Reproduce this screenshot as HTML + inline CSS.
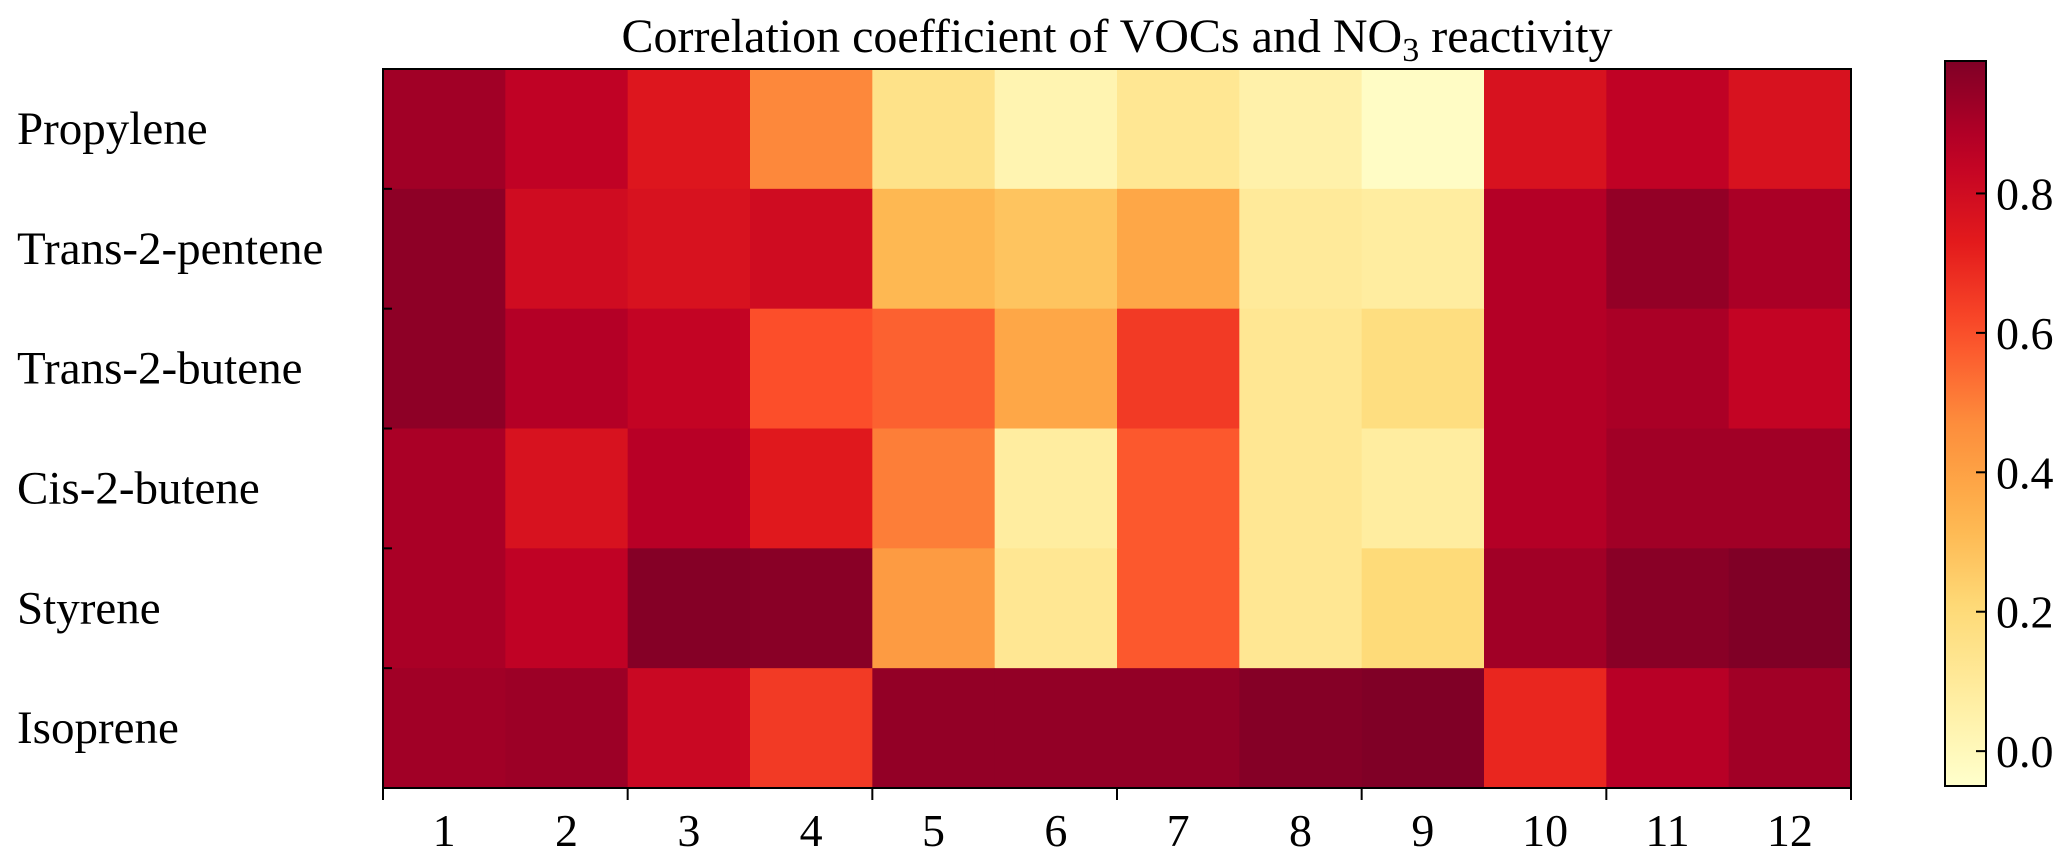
<!DOCTYPE html>
<html><head><meta charset="utf-8"><style>
body{margin:0;background:#fff;}
svg{display:block;font-family:"Liberation Serif",serif;}
</style></head><body>
<svg id="chart" width="2067" height="864" viewBox="0 0 2067 864">
<defs><linearGradient id="cbg" x1="0" y1="1" x2="0" y2="0"></linearGradient></defs>
<text x="1117" y="52" text-anchor="middle" font-size="48">Correlation coefficient of VOCs and NO<tspan font-size="34" dy="9">3</tspan><tspan dy="-9"> reactivity</tspan></text>
<g id="cells"></g><g id="axes"></g>
</svg>
<script>
const rowLabels=["Propylene","Trans-2-pentene","Trans-2-butene","Cis-2-butene","Styrene","Isoprene"];
const colLabels=["1","2","3","4","5","6","7","8","9","10","11","12"];
const rowPropylene=[0.92,0.85,0.75,0.48,0.15,0.03,0.12,0.05,-0.03,0.77,0.85,0.77];
const rowPentene=[0.96,0.80,0.77,0.80,0.32,0.28,0.38,0.10,0.08,0.88,0.95,0.90];
const rowTButene=[0.96,0.88,0.84,0.60,0.56,0.38,0.65,0.12,0.18,0.88,0.90,0.84];
const rowCButene=[0.90,0.77,0.87,0.74,0.50,0.08,0.58,0.12,0.08,0.88,0.92,0.92];
const rowStyrene=[0.90,0.85,0.98,0.97,0.42,0.12,0.58,0.12,0.20,0.92,0.97,0.99];
const rowIsoprene=[0.92,0.93,0.82,0.65,0.95,0.95,0.95,0.98,0.99,0.70,0.87,0.92];
const cbTicks=[0.0,0.2,0.4,0.6,0.8];
const values=[rowPropylene,rowPentene,rowTButene,rowCButene,rowStyrene,rowIsoprene];
const VMIN=-0.05,VMAX=0.99;
const L=383,R=1851,T=69,B=788;
const CBL=1945,CBR=1986,CBT=61,CBB=786;
const stops=["#ffffcc","#ffeda0","#fed976","#feb24c","#fd8d3c","#fc4e2a","#e31a1c","#bd0026","#800026"].map(h=>[1,3,5].map(i=>parseInt(h.substr(i,2),16)));
function cmap(v){let t=Math.max(0,Math.min(1,(v-VMIN)/(VMAX-VMIN)))*(stops.length-1);let i=Math.min(Math.floor(t),stops.length-2),f=t-i;
 const c=stops[i].map((a,k)=>Math.round(a+(stops[i+1][k]-a)*f));return `rgb(${c[0]},${c[1]},${c[2]})`;}
const xs=i=>L+(R-L)*i/colLabels.length, ys=j=>T+(B-T)*j/rowLabels.length;
const cbY=v=>CBB-(v-VMIN)/(VMAX-VMIN)*(CBB-CBT);
const NS="http://www.w3.org/2000/svg";
function mk(tag,attrs,parent){const e=document.createElementNS(NS,tag);for(const k in attrs)e.setAttribute(k,attrs[k]);parent.appendChild(e);return e;}
const cells=document.getElementById('cells'),axes=document.getElementById('axes');
values.forEach((row,j)=>row.forEach((v,i)=>{
 const r=mk('rect',{x:xs(i),y:ys(j),width:xs(i+1)-xs(i)+0.5,height:ys(j+1)-ys(j)+0.5,fill:cmap(v)},cells);
 
 
}));
const frame=mk('rect',{x:L,y:T,width:R-L,height:B-T,fill:'none',stroke:'#000','stroke-width':2},axes);


rowLabels.forEach((lab,j)=>{
 const t=mk('text',{x:17,y:(ys(j)+ys(j+1))/2+15,'font-size':47},axes);t.textContent=lab;
 
 
 if(j>0){const tk=mk('line',{x1:L,x2:L+9,y1:ys(j),y2:ys(j),stroke:'#000','stroke-width':2},axes);
 
 }
});
colLabels.forEach((lab,i)=>{
 const t=mk('text',{x:(xs(i)+xs(i+1))/2,y:B+58,'font-size':46,'text-anchor':'middle'},axes);t.textContent=lab;
 
 
});
for(let i=0;i<=colLabels.length;i+=2){const tk=mk('line',{x1:xs(i),x2:xs(i),y1:B,y2:B+12,stroke:'#000','stroke-width':2},axes);
 
 }
const g=document.getElementById('cbg');
for(let k=0;k<=20;k++){const v=VMIN+(VMAX-VMIN)*k/20;mk('stop',{offset:(k/20),'stop-color':cmap(v)},g);}
const cb=mk('rect',{x:CBL,y:CBT,width:CBR-CBL,height:CBB-CBT,fill:'url(#cbg)',stroke:'#000','stroke-width':2},axes);


cbTicks.forEach(v=>{
 const y=cbY(v);
 const tk=mk('line',{x1:CBR-10,x2:CBR,y1:y,y2:y,stroke:'#000','stroke-width':2},axes);
 
 
 const t=mk('text',{x:CBR+10,y:y+16,'font-size':46},axes);t.textContent=v.toFixed(1);
 
 
});
</script>
</body></html>
